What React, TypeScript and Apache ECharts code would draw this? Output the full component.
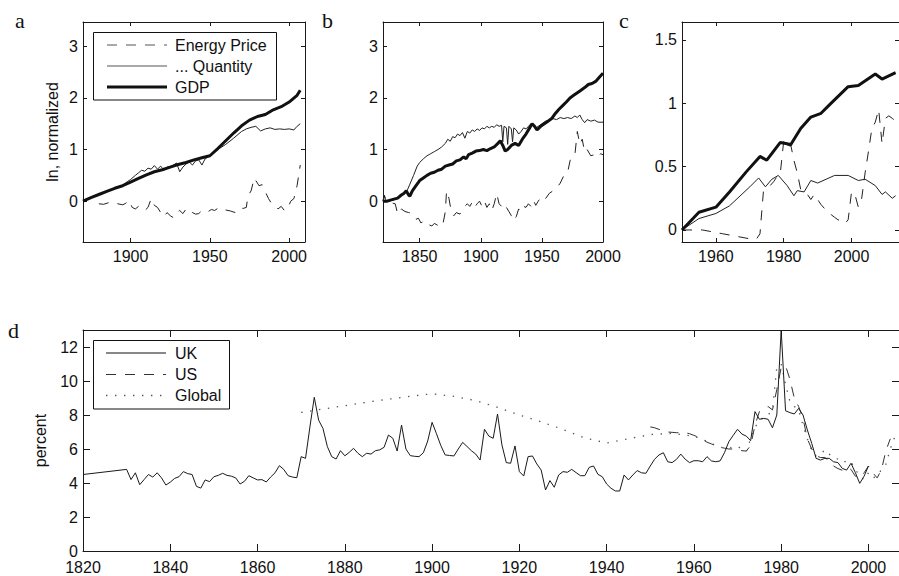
import React, { useEffect, useRef } from "react";
import * as echarts from "echarts";

// ---------- DATA ----------
// Panel a (1870-2007): ln, normalized
const aGdp: [number, number][] = [
  [1870, 0], [1875, 0.07], [1880, 0.13], [1885, 0.19], [1890, 0.25], [1895, 0.3], [1900, 0.37],
  [1905, 0.44], [1910, 0.51], [1915, 0.57], [1920, 0.61], [1925, 0.66], [1930, 0.71], [1935, 0.75],
  [1940, 0.8], [1945, 0.84], [1950, 0.88], [1955, 1.02], [1960, 1.17], [1965, 1.32], [1970, 1.46],
  [1975, 1.57], [1980, 1.64], [1985, 1.68], [1990, 1.77], [1995, 1.83], [2000, 1.92], [2005, 2.05], [2007, 2.15],
];
const aQuantity: [number, number][] = [
  [1870, 0], [1875, 0.07], [1880, 0.13], [1885, 0.19], [1890, 0.25], [1895, 0.31], [1898, 0.38],
  [1900, 0.42], [1903, 0.5], [1905, 0.55], [1907, 0.6], [1909, 0.58], [1911, 0.64], [1913, 0.62],
  [1915, 0.69], [1917, 0.62], [1919, 0.68], [1921, 0.6], [1923, 0.66], [1926, 0.68], [1929, 0.74],
  [1931, 0.57], [1933, 0.66], [1935, 0.72], [1937, 0.76], [1939, 0.7], [1941, 0.78], [1943, 0.8],
  [1945, 0.7], [1947, 0.82], [1949, 0.86], [1950, 0.88], [1955, 1.0], [1960, 1.1], [1965, 1.22],
  [1970, 1.35], [1973, 1.4], [1976, 1.43], [1979, 1.45], [1982, 1.36], [1985, 1.4], [1988, 1.42],
  [1991, 1.39], [1994, 1.4], [1997, 1.39], [2000, 1.4], [2003, 1.38], [2005, 1.45], [2007, 1.5],
];
const aPrice: [number, number][] = [
  [1880, -0.05], [1883, -0.06], [1886, -0.03], [1889, -0.02], [1892, -0.05], [1895, -0.07], [1897, -0.04],
  [1899, 0.02], [1901, -0.12], [1903, -0.15], [1905, -0.1], [1907, -0.12], [1909, -0.18], [1911, -0.12],
  [1913, 0.05], [1915, -0.08], [1917, -0.12], [1919, -0.22], [1921, -0.3], [1923, -0.22], [1925, -0.28],
  [1927, -0.32], [1929, -0.22], [1931, -0.18], [1933, -0.24], [1935, -0.15], [1937, -0.14], [1939, -0.22],
  [1941, -0.25], [1943, -0.24], [1945, -0.18], [1947, -0.17], [1949, -0.2], [1951, -0.16], [1953, -0.18],
  [1955, -0.14], [1957, -0.18], [1960, -0.17], [1963, -0.19], [1966, -0.22], [1969, -0.13], [1971, -0.14],
  [1973, -0.12], [1974, 0.1], [1976, 0.2], [1978, 0.45], [1979, 0.4], [1981, 0.3], [1983, 0.32], [1985, 0.18],
  [1987, 0.05], [1989, -0.05], [1991, -0.08], [1993, -0.15], [1995, -0.1], [1997, -0.18], [1999, -0.15],
  [2001, 0.0], [2003, 0.05], [2005, 0.3], [2007, 0.7],
];

// Panel b (1820-2000)
const bGdp: [number, number][] = [
  [1820, 0], [1823, 0], [1826, 0.02], [1829, 0.04], [1832, 0.06], [1835, 0.12], [1837, 0.15], [1839, 0.2],
  [1841, 0.12], [1842, 0.1], [1844, 0.2], [1847, 0.3], [1850, 0.4], [1853, 0.45], [1856, 0.5], [1859, 0.54],
  [1862, 0.56], [1865, 0.6], [1868, 0.62], [1871, 0.68], [1874, 0.7], [1877, 0.72], [1880, 0.78], [1883, 0.8],
  [1886, 0.86], [1888, 0.82], [1890, 0.9], [1893, 0.93], [1896, 0.97], [1899, 0.98], [1902, 1.0], [1905, 0.98],
  [1908, 1.02], [1911, 1.05], [1914, 1.12], [1916, 1.17], [1918, 1.08], [1920, 0.97], [1922, 1.0], [1925, 1.08],
  [1928, 1.12], [1931, 1.08], [1934, 1.2], [1937, 1.3], [1940, 1.42], [1942, 1.5], [1944, 1.45], [1946, 1.38],
  [1949, 1.45], [1952, 1.5], [1955, 1.55], [1958, 1.6], [1961, 1.7], [1964, 1.78], [1967, 1.85], [1970, 1.92],
  [1973, 2.0], [1976, 2.05], [1979, 2.1], [1982, 2.15], [1985, 2.2], [1988, 2.26], [1991, 2.28], [1994, 2.32],
  [1997, 2.4], [2000, 2.48],
];
const bQuantity: [number, number][] = [
  [1820, 0], [1821, 0.12], [1822, 0.02], [1825, 0], [1828, 0.02], [1831, 0.05], [1834, 0.1], [1837, 0.15],
  [1840, 0.22], [1842, 0.33], [1845, 0.5], [1848, 0.68], [1850, 0.75], [1853, 0.82], [1856, 0.88], [1859, 0.92],
  [1862, 0.96], [1865, 1.0], [1868, 1.05], [1871, 1.12], [1873, 1.2], [1875, 1.16], [1877, 1.25], [1879, 1.23],
  [1881, 1.3], [1883, 1.27], [1885, 1.33], [1887, 1.22], [1889, 1.35], [1891, 1.32], [1893, 1.38], [1895, 1.35],
  [1897, 1.4], [1899, 1.37], [1901, 1.42], [1903, 1.4], [1905, 1.45], [1907, 1.42], [1909, 1.45], [1911, 1.43],
  [1913, 1.48], [1915, 1.45], [1917, 1.47], [1918, 1.15], [1919, 1.45], [1921, 1.42], [1922, 1.1], [1923, 1.45],
  [1925, 1.4], [1926, 1.15], [1927, 1.42], [1929, 1.38], [1931, 1.3], [1933, 1.35], [1935, 1.42], [1937, 1.4],
  [1939, 1.45], [1941, 1.5], [1943, 1.46], [1945, 1.42], [1947, 1.45], [1950, 1.5], [1953, 1.55], [1956, 1.57],
  [1959, 1.6], [1962, 1.58], [1965, 1.62], [1968, 1.6], [1971, 1.62], [1974, 1.6], [1977, 1.65], [1979, 1.62],
  [1981, 1.67], [1983, 1.58], [1985, 1.52], [1987, 1.58], [1990, 1.55], [1993, 1.57], [1996, 1.53], [2000, 1.53],
];
const bPrice: [number, number][] = [
  [1820, 0], [1821, 0.12], [1822, 0.05], [1825, -0.02], [1830, -0.05], [1832, -0.25], [1835, -0.15],
  [1838, -0.2], [1841, -0.22], [1844, -0.24], [1847, -0.35], [1849, -0.33], [1851, -0.42], [1854, -0.38],
  [1857, -0.45], [1860, -0.48], [1862, -0.43], [1865, -0.47], [1867, -0.5], [1869, -0.45], [1871, -0.2],
  [1872, 0.2], [1874, 0.05], [1876, -0.22], [1878, -0.28], [1880, -0.22], [1883, -0.25], [1886, -0.12],
  [1889, -0.05], [1891, -0.1], [1893, -0.02], [1895, -0.12], [1897, -0.05], [1899, 0], [1901, -0.1],
  [1903, 0], [1905, -0.12], [1907, -0.05], [1909, -0.18], [1911, -0.05], [1913, 0.15], [1915, -0.05],
  [1917, -0.1], [1919, -0.18], [1921, -0.12], [1923, -0.2], [1925, -0.28], [1927, -0.38], [1929, -0.3],
  [1931, -0.15], [1933, -0.2], [1935, -0.1], [1937, -0.12], [1939, -0.05], [1941, -0.1], [1943, 0.02],
  [1945, -0.08], [1947, 0], [1950, 0.1], [1953, 0.05], [1956, 0.15], [1959, 0.2], [1962, 0.25], [1965, 0.35],
  [1968, 0.5], [1971, 0.55], [1973, 0.78], [1975, 0.88], [1977, 0.9], [1979, 1.35], [1981, 1.1], [1983, 1.2],
  [1985, 0.95], [1987, 1.0], [1990, 0.88], [1993, 0.9], [1996, 0.85], [1998, 0.92], [2000, 0.9],
];

// Panel c (1950-2013)
const cGdp: [number, number][] = [
  [1950, 0], [1955, 0.14], [1960, 0.18], [1964, 0.3], [1969, 0.46], [1973, 0.58], [1975, 0.55],
  [1979, 0.69], [1981, 0.68], [1982, 0.67], [1985, 0.8], [1988, 0.89], [1991, 0.92], [1994, 1.0],
  [1999, 1.13], [2002, 1.14], [2007, 1.23], [2009, 1.19], [2013, 1.24],
];
const cQuantity: [number, number][] = [
  [1950, 0], [1955, 0.09], [1960, 0.13], [1964, 0.19], [1970, 0.34], [1972.6, 0.41], [1974.6, 0.34],
  [1976.5, 0.4], [1978.4, 0.43], [1981, 0.35], [1983, 0.27], [1984, 0.31], [1986, 0.3], [1988, 0.39],
  [1990, 0.37], [1995, 0.43], [1999, 0.43], [2002, 0.39], [2004, 0.4], [2007, 0.35], [2009, 0.28],
  [2010, 0.3], [2012, 0.25], [2013, 0.27],
];
const cPrice: [number, number][] = [
  [1950, 0], [1952, 0], [1954, 0], [1956, 0], [1958, -0.01], [1960, -0.02], [1962, -0.03], [1964, -0.04],
  [1966, -0.05], [1968, -0.06], [1970, -0.07], [1972, -0.07], [1973, -0.03], [1974, 0.3], [1975, 0.32],
  [1976, 0.35], [1977, 0.38], [1978, 0.42], [1979, 0.45], [1980, 0.7], [1981, 0.72], [1982, 0.68],
  [1983, 0.55], [1984, 0.45], [1985, 0.32], [1986, 0.3], [1987, 0.28], [1988, 0.24], [1989, 0.28],
  [1990, 0.24], [1991, 0.2], [1992, 0.17], [1993, 0.15], [1994, 0.12], [1995, 0.1], [1996, 0.08],
  [1997, 0.07], [1998, 0.05], [1999, 0.08], [2000, 0.3], [2001, 0.28], [2002, 0.18], [2003, 0.25],
  [2004, 0.45], [2005, 0.62], [2006, 0.8], [2007, 0.85], [2008, 0.95], [2009, 0.68], [2010, 0.88],
  [2011, 0.9], [2012, 0.88], [2013, 0.86],
];

// Panel d (percent)
const dUK: [number, number][] = [
  [1820, 4.5], [1830, 4.8], [1831, 4.2], [1832, 4.6], [1833, 3.9], [1834, 4.2], [1835, 4.5], [1836, 4.35],
  [1837, 4.6], [1838, 4.3], [1839, 3.88], [1840, 4.05], [1841, 4.27], [1842, 4.37], [1843, 4.67], [1844, 4.55],
  [1845, 4.5], [1846, 3.8], [1847, 3.7], [1848, 4.18], [1849, 4.08], [1850, 4.37], [1851, 4.45], [1852, 4.57],
  [1853, 4.45], [1854, 4.4], [1855, 4.3], [1856, 3.94], [1857, 4.1], [1858, 4.43], [1859, 4.3], [1860, 4.18],
  [1861, 4.2], [1862, 4.06], [1863, 4.35], [1864, 4.6], [1865, 5.02], [1866, 4.8], [1867, 4.43], [1868, 4.35],
  [1869, 4.31], [1870, 5.55], [1871, 5.45], [1872, 7.3], [1873, 9.04], [1874, 7.7], [1875, 7.2], [1876, 6.14],
  [1877, 5.55], [1878, 5.41], [1879, 5.9], [1880, 5.6], [1881, 5.8], [1882, 6.04], [1883, 5.75], [1884, 5.55],
  [1885, 5.75], [1886, 5.7], [1887, 5.9], [1888, 5.95], [1889, 6.1], [1890, 6.82], [1891, 6.63], [1892, 5.88],
  [1893, 7.41], [1894, 6.0], [1895, 5.61], [1896, 5.57], [1897, 5.55], [1898, 5.78], [1899, 6.47], [1900, 7.57],
  [1901, 6.9], [1902, 6.2], [1903, 5.65], [1904, 5.62], [1905, 5.59], [1906, 6.0], [1907, 6.39], [1908, 6.15],
  [1909, 5.9], [1910, 5.7], [1911, 5.35], [1912, 7.16], [1913, 6.76], [1914, 6.63], [1915, 8.06], [1916, 6.24],
  [1917, 5.2], [1918, 5.16], [1919, 6.18], [1920, 4.67], [1921, 4.41], [1922, 5.55], [1923, 5.59], [1924, 5.12],
  [1925, 4.76], [1926, 3.59], [1927, 4.14], [1928, 3.75], [1929, 4.47], [1930, 4.67], [1931, 4.63], [1932, 4.8],
  [1933, 4.61], [1934, 4.43], [1935, 4.43], [1936, 4.92], [1937, 5.0], [1938, 4.51], [1939, 4.37], [1940, 3.94],
  [1941, 3.69], [1942, 3.53], [1943, 3.53], [1944, 4.47], [1945, 4.18], [1946, 4.47], [1947, 4.73], [1948, 4.6],
  [1949, 4.57], [1950, 5.0], [1951, 5.4], [1952, 5.65], [1953, 5.78], [1954, 5.25], [1955, 5.2], [1956, 5.39],
  [1957, 5.7], [1958, 5.4], [1959, 5.2], [1960, 5.31], [1961, 5.31], [1962, 5.25], [1963, 5.55], [1964, 5.3],
  [1965, 5.25], [1966, 5.3], [1967, 5.78], [1968, 6.43], [1969, 6.8], [1970, 7.16], [1971, 6.88], [1972, 6.76],
  [1973, 6.49], [1974, 8.2], [1975, 7.75], [1976, 7.8], [1977, 7.75], [1978, 7.25], [1979, 8.0], [1980, 13.0],
  [1981, 8.25], [1982, 8.14], [1983, 8.06], [1984, 8.39], [1985, 8.0], [1986, 7.12], [1987, 6.33], [1988, 5.45],
  [1989, 5.35], [1990, 5.45], [1991, 5.45], [1992, 5.25], [1993, 5.2], [1994, 4.86], [1995, 4.76], [1996, 5.16],
  [1997, 4.61], [1998, 3.98], [1999, 4.4], [2000, 5.0],
];
const dUS: [number, number][] = [
  [1950, 7.3], [1951, 7.25], [1952, 7.15], [1953, 7.1], [1954, 7.0], [1955, 6.98], [1956, 6.96], [1957, 6.96],
  [1958, 6.96], [1959, 6.9], [1960, 6.8], [1961, 6.7], [1962, 6.55], [1963, 6.4], [1964, 6.3], [1965, 6.2],
  [1966, 6.1], [1967, 6.05], [1968, 6.0], [1969, 6.0], [1970, 5.95], [1971, 5.9], [1972, 5.88], [1973, 6.2],
  [1974, 7.4], [1975, 8.2], [1976, 8.35], [1977, 8.5], [1978, 8.3], [1979, 9.5], [1980, 10.8], [1981, 10.9],
  [1982, 10.1], [1983, 9.0], [1984, 8.5], [1985, 7.8], [1986, 6.6], [1987, 6.0], [1988, 5.6], [1989, 5.5],
  [1990, 5.5], [1991, 5.3], [1992, 5.0], [1993, 4.85], [1994, 4.75], [1995, 4.9], [1996, 4.8], [1997, 4.4],
  [1998, 4.3], [1999, 4.6], [2000, 5.0], [2001, 4.6], [2002, 4.3], [2003, 4.8], [2004, 5.9], [2005, 6.6],
];
const dGlobal: [number, number][] = [
  [1870, 8.15], [1875, 8.35], [1880, 8.55], [1885, 8.75], [1890, 8.93], [1895, 9.1], [1900, 9.25], [1905, 9.1],
  [1910, 8.85], [1915, 8.45], [1920, 8.0], [1925, 7.6], [1930, 7.15], [1935, 6.65], [1940, 6.35], [1945, 6.6],
  [1950, 6.85], [1955, 6.92], [1960, 6.75], [1963, 6.45], [1966, 6.1], [1968, 6.05], [1970, 6.15], [1972, 5.85],
  [1973, 6.6], [1974, 7.3], [1975, 7.6], [1976, 7.9], [1977, 8.0], [1978, 8.3], [1979, 10.8], [1980, 11.0],
  [1981, 9.8], [1982, 8.8], [1983, 8.5], [1984, 8.3], [1985, 7.4], [1986, 6.6], [1987, 5.9], [1988, 5.6],
  [1989, 5.7], [1990, 5.95], [1991, 5.7], [1992, 5.5], [1993, 5.4], [1994, 5.2], [1995, 5.3], [1996, 5.25],
  [1997, 4.8], [1998, 4.4], [1999, 4.2], [2000, 4.6], [2001, 4.3], [2002, 4.4], [2003, 4.8], [2004, 5.1],
  [2005, 6.0], [2006, 6.7],
];

// Tick labels
const aXTicks = [1900, 1950, 2000];
const bXTicks = [1850, 1900, 1950, 2000];
const cXTicks = [1960, 1980, 2000];
const dXTicks = [1820, 1840, 1860, 1880, 1900, 1920, 1940, 1960, 1980, 2000];
const abYTicks = [0, 1, 2, 3];
const cYTicks = [0, 0.5, 1, 1.5];
const dYTicks = [0, 2, 4, 6, 8, 10, 12];

const panelLetters = ["a", "b", "c", "d"];
const legendTop = ["Energy Price", "... Quantity", "GDP"];
const legendBottom = ["UK", "US", "Global"];

// ---------- STYLE ----------
const FONT = '"Liberation Sans", Arial, Helvetica, sans-serif';
const SERIF = '"Liberation Serif", "Times New Roman", serif';
const AX = "#1a1a1a";
const DASH = [10, 9];
const DOT = [1.4, 7.6];

function xAxes(grid: number, min: number, max: number, ticks: number[], tickLen: number, margin: number) {
  const base = {
    type: "value",
    gridIndex: grid,
    min,
    max,
    splitLine: { show: false },
    axisLine: { show: true, onZero: false, lineStyle: { color: AX, width: 1 } },
    axisTick: { show: true, inside: true, length: tickLen, customValues: ticks, lineStyle: { color: AX, width: 1 } },
  };
  return [
    {
      ...base,
      position: "bottom",
      axisLabel: {
        show: true,
        customValues: ticks,
        margin,
        fontSize: 16,
        lineHeight: 14,
        fontFamily: FONT,
        color: "#111",
        formatter: (v: number) => String(v),
      },
    },
    { ...base, position: "top", axisLabel: { show: false } },
  ];
}

function yAxes(grid: number, min: number, max: number, ticks: number[], tickLen: number, name?: string, nameGap?: number) {
  const base = {
    type: "value",
    gridIndex: grid,
    min,
    max,
    splitLine: { show: false },
    axisLine: { show: true, onZero: false, lineStyle: { color: AX, width: 1 } },
    axisTick: { show: true, inside: true, length: tickLen, customValues: ticks, lineStyle: { color: AX, width: 1 } },
  };
  return [
    {
      ...base,
      position: "left",
      name: name || "",
      nameLocation: "middle",
      nameGap: nameGap || 0,
      nameTextStyle: { fontSize: 16, fontFamily: FONT, color: "#111" },
      axisLabel: {
        show: true,
        customValues: ticks,
        margin: 5,
        fontSize: 16,
        lineHeight: 12,
        fontFamily: FONT,
        color: "#111",
        formatter: (v: number) => String(v),
      },
    },
    { ...base, position: "right", axisLabel: { show: false } },
  ];
}

function line(name: string, data: [number, number][], axis: number, width: number, color: string, type: any, z = 2) {
  return {
    type: "line",
    name,
    data,
    xAxisIndex: axis,
    yAxisIndex: axis,
    showSymbol: false,
    symbol: "none",
    z,
    lineStyle: { width, color, type },
  };
}

function legendGraphics(
  box: { x: number; y: number; w: number; h: number },
  rows: number[],
  labels: string[],
  styles: { width: number; color: string; dash: number[] | null }[],
  x1: number,
  x2: number,
  tx: number
) {
  const els: any[] = [
    {
      type: "rect",
      z: 100,
      shape: { x: box.x, y: box.y, width: box.w, height: box.h },
      style: { fill: "#fff", stroke: "#111", lineWidth: 1 },
    },
  ];
  rows.forEach((y, i) => {
    els.push({
      type: "line",
      z: 101,
      shape: { x1, y1: y, x2, y2: y },
      style: { stroke: styles[i].color, lineWidth: styles[i].width, lineDash: styles[i].dash || undefined },
    });
    els.push({
      type: "text",
      z: 101,
      x: tx,
      y,
      style: { text: labels[i], fontSize: 16, fontFamily: FONT, fill: "#111", align: "left", verticalAlign: "middle" },
    });
  });
  return els;
}

export default function App() {
  const ref = useRef<HTMLDivElement>(null);
  useEffect(() => {
    if (!ref.current) return;
    const chart = echarts.init(ref.current, null, { renderer: "svg" });
    const letterPos = [
      [15, 20.5],
      [322, 20.5],
      [619, 20.5],
      [8, 330.5],
    ];
    const option: any = {
      animation: false,
      backgroundColor: "#fff",
      grid: [
        { left: 83, top: 22, width: 222, height: 220 },
        { left: 383, top: 22, width: 220, height: 220 },
        { left: 682, top: 22, width: 221.4, height: 220 },
        { left: 83, top: 330, width: 822, height: 221 },
      ],
      xAxis: [
        ...xAxes(0, 1870, 2010, aXTicks, 4, 7),
        ...xAxes(1, 1820, 2000, bXTicks, 4, 7),
        ...xAxes(2, 1950, 2014, cXTicks, 4, 7),
        ...xAxes(3, 1820, 2007, dXTicks, 7, 9),
      ],
      yAxis: [
        ...yAxes(0, -0.79, 3.47, abYTicks, 4, "ln, normalized", 23),
        ...yAxes(1, -0.79, 3.47, abYTicks, 4),
        ...yAxes(2, -0.095, 1.64, cYTicks, 4),
        ...yAxes(3, 0, 13, dYTicks, 7, "percent", 35),
      ],
      series: [
        line("Energy Price", aPrice, 0, 1, "#222", DASH),
        line("... Quantity", aQuantity, 0, 1, "#222", "solid"),
        line("GDP", aGdp, 0, 3, "#111", "solid", 3),
        line("Energy Price", bPrice, 2, 1, "#222", DASH),
        line("... Quantity", bQuantity, 2, 1, "#222", "solid"),
        line("GDP", bGdp, 2, 3, "#111", "solid", 3),
        line("Energy Price", cPrice, 4, 1, "#222", DASH),
        line("... Quantity", cQuantity, 4, 1, "#222", "solid"),
        line("GDP", cGdp, 4, 3, "#111", "solid", 3),
        line("UK", dUK, 6, 1, "#1a1a1a", "solid", 3),
        line("US", dUS, 6, 1, "#333", DASH),
        line("Global", dGlobal, 6, 1.3, "#555", DOT),
      ],
      graphic: [
        ...panelLetters.map((t, i) => ({
          type: "text",
          z: 100,
          x: letterPos[i][0],
          y: letterPos[i][1],
          style: { text: t, fontSize: 22, fontFamily: SERIF, fill: "#111", align: "left", verticalAlign: "middle" },
        })),
        ...legendGraphics(
          { x: 93.5, y: 32.5, w: 183, h: 67.5 },
          [45, 66, 87],
          legendTop,
          [
            { width: 1, color: "#555", dash: DASH },
            { width: 1, color: "#555", dash: null },
            { width: 3, color: "#111", dash: null },
          ],
          107,
          167,
          175
        ),
        ...legendGraphics(
          { x: 93.5, y: 340.5, w: 136, h: 68.5 },
          [353, 374.5, 395.5],
          legendBottom,
          [
            { width: 1, color: "#111", dash: null },
            { width: 1, color: "#333", dash: DASH },
            { width: 1.3, color: "#555", dash: DOT },
          ],
          106,
          166,
          175
        ),
      ],
    };
    chart.setOption(option);
    return () => chart.dispose();
  }, []);
  return (
    <div
      ref={ref}
      style={{ position: "absolute", left: 0, top: 0, width: 899, height: 576, overflow: "hidden", background: "#fff" }}
    />
  );
}
